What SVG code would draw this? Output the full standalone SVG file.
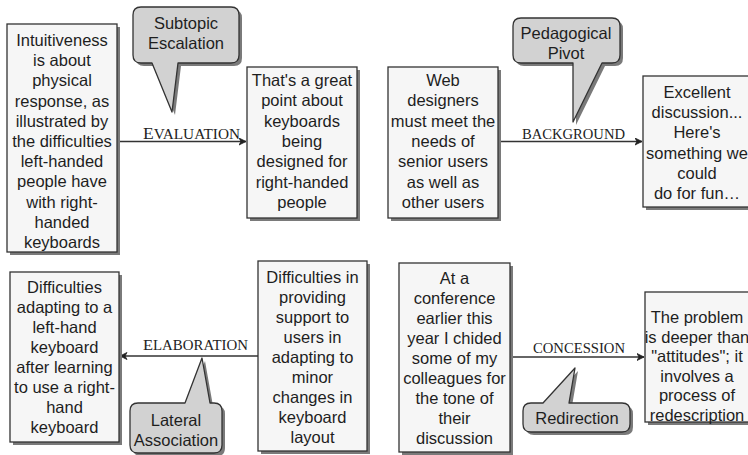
<svg xmlns="http://www.w3.org/2000/svg" width="748" height="455" viewBox="0 0 748 455">
<style>
.box{fill:#f6f6f6;stroke:#333;stroke-width:1.3}
.sh{fill:#7a7a7a}
.call{fill:#d2d2d2;stroke:#333;stroke-width:1.3;stroke-linejoin:round}
.t{font-family:"Liberation Sans",Arial,sans-serif;font-size:16.5px;fill:#1e1e1e;text-anchor:middle}
.lbl{font-family:"Liberation Serif","Times New Roman",serif;font-size:14px;fill:#222}
.ln{stroke:#333;stroke-width:1.4;fill:none}
</style>
<defs>
<marker id="ah" viewBox="0 0 8 8" refX="7.5" refY="4" markerWidth="8" markerHeight="8" markerUnits="userSpaceOnUse" orient="auto">
<path d="M0.5,0.5 L7.5,4 L0.5,7.5 L2.5,4 Z" fill="#222" stroke="#222" stroke-width="0.8" stroke-linejoin="round"/>
</marker>
</defs>
<rect width="748" height="455" fill="#fff"/>

<g id="connectors">
<line class="ln" x1="117" y1="141.5" x2="246" y2="141.5" marker-end="url(#ah)"/>
<text class="lbl" x="143" y="139" textLength="97" lengthAdjust="spacingAndGlyphs"><tspan style="font-size:16px">E</tspan>VALUATION</text>
<line class="ln" x1="498" y1="141.5" x2="642" y2="141.5" marker-end="url(#ah)"/>
<text class="lbl" x="522" y="138.5" textLength="103" lengthAdjust="spacingAndGlyphs">BACKGROUND</text>
<line class="ln" x1="258" y1="356" x2="120" y2="356" stroke-width="2" marker-end="url(#ah)"/>
<text class="lbl" x="143" y="350" textLength="105" lengthAdjust="spacingAndGlyphs"><tspan style="font-size:15.5px">E</tspan>LABORATION</text>
<line class="ln" x1="510" y1="357" x2="644" y2="357" marker-end="url(#ah)"/>
<text class="lbl" x="533" y="353" textLength="92" lengthAdjust="spacingAndGlyphs">CONCESSION</text>
</g>

<g id="n1">
<rect class="sh" x="10" y="27" width="110" height="228"/>
<rect class="box" x="7" y="24" width="110" height="228"/>
<text class="t" x="62" y="46"><tspan x="62">Intuitiveness</tspan><tspan x="62" dy="20.2">is about</tspan><tspan x="62" dy="20.2">physical</tspan><tspan x="62" dy="20.2">response, as</tspan><tspan x="62" dy="20.2">illustrated by</tspan><tspan x="62" dy="20.2">the difficulties</tspan><tspan x="62" dy="20.2">left-handed</tspan><tspan x="62" dy="20.2">people have</tspan><tspan x="62" dy="20.2">with right-</tspan><tspan x="62" dy="20.2">handed</tspan><tspan x="62" dy="20.2">keyboards</tspan></text>
</g>

<g id="n2">
<rect class="sh" x="250" y="70" width="110" height="151"/>
<rect class="box" x="247" y="67" width="110" height="151"/>
<text class="t" x="302" y="86"><tspan x="302">That's a great</tspan><tspan x="302" dy="20.3">point about</tspan><tspan x="302" dy="20.3">keyboards</tspan><tspan x="302" dy="20.3">being</tspan><tspan x="302" dy="20.3">designed for</tspan><tspan x="302" dy="20.3">right-handed</tspan><tspan x="302" dy="20.3">people</tspan></text>
</g>

<g id="n3">
<rect class="sh" x="391" y="70" width="110" height="151"/>
<rect class="box" x="388" y="67" width="110" height="151"/>
<text class="t" x="443" y="86"><tspan x="443">Web</tspan><tspan x="443" dy="20.3">designers</tspan><tspan x="443" dy="20.3">must meet the</tspan><tspan x="443" dy="20.3">needs of</tspan><tspan x="443" dy="20.3">senior users</tspan><tspan x="443" dy="20.3">as well as</tspan><tspan x="443" dy="20.3">other users</tspan></text>
</g>

<g id="n4">
<rect class="sh" x="646" y="79" width="110" height="131"/>
<rect class="box" x="643" y="76" width="110" height="131"/>
<text class="t" x="697" y="98"><tspan x="697">Excellent</tspan><tspan x="697" dy="20.2">discussion...</tspan><tspan x="697" dy="20.2">Here's</tspan><tspan x="697" dy="20.2">something we</tspan><tspan x="697" dy="20.2">could</tspan><tspan x="697" dy="20.2">do for fun…</tspan></text>
</g>

<g id="n5">
<rect class="sh" x="13" y="275" width="109" height="170"/>
<rect class="box" x="10" y="272" width="109" height="170"/>
<text class="t" x="64.5" y="293"><tspan x="64.5">Difficulties</tspan><tspan x="64.5" dy="20">adapting to a</tspan><tspan x="64.5" dy="20">left-hand</tspan><tspan x="64.5" dy="20">keyboard</tspan><tspan x="64.5" dy="20">after learning</tspan><tspan x="64.5" dy="20">to use a right-</tspan><tspan x="64.5" dy="20">hand</tspan><tspan x="64.5" dy="20">keyboard</tspan></text>
</g>

<g id="n6">
<rect class="sh" x="261" y="264" width="109" height="190"/>
<rect class="box" x="258" y="261" width="109" height="190"/>
<text class="t" x="312.5" y="283"><tspan x="312.5">Difficulties in</tspan><tspan x="312.5" dy="20">providing</tspan><tspan x="312.5" dy="20">support to</tspan><tspan x="312.5" dy="20">users in</tspan><tspan x="312.5" dy="20">adapting to</tspan><tspan x="312.5" dy="20">minor</tspan><tspan x="312.5" dy="20">changes in</tspan><tspan x="312.5" dy="20">keyboard</tspan><tspan x="312.5" dy="20">layout</tspan></text>
</g>

<g id="n7">
<rect class="sh" x="402" y="266" width="111" height="189"/>
<rect class="box" x="399" y="263" width="111" height="189"/>
<text class="t" x="454.5" y="284"><tspan x="454.5">At a</tspan><tspan x="454.5" dy="20">conference</tspan><tspan x="454.5" dy="20">earlier this</tspan><tspan x="454.5" dy="20">year I chided</tspan><tspan x="454.5" dy="20">some of my</tspan><tspan x="454.5" dy="20">colleagues for</tspan><tspan x="454.5" dy="20">the tone of</tspan><tspan x="454.5" dy="20">their</tspan><tspan x="454.5" dy="20">discussion</tspan></text>
</g>

<g id="n8">
<rect class="sh" x="648" y="295" width="110" height="130"/>
<rect class="box" x="645" y="292" width="110" height="130"/>
<text class="t" x="697" y="323"><tspan x="697">The problem</tspan><tspan x="697" dy="19.5">is deeper than</tspan><tspan x="697" dy="19.5">"attitudes"; it</tspan><tspan x="697" dy="19.5">involves a</tspan><tspan x="697" dy="19.5">process of</tspan><tspan x="697" dy="19.5">redescription</tspan></text>
</g>

<g id="c1">
<path class="sh" transform="translate(3,3)" d="M141,7 H231 Q239,7 239,15 V55 Q239,63 231,63 H178 L172,112 L152,63 H141 Q133,63 133,55 V15 Q133,7 141,7 Z"/>
<path class="call" d="M141,7 H231 Q239,7 239,15 V55 Q239,63 231,63 H178 L172,112 L152,63 H141 Q133,63 133,55 V15 Q133,7 141,7 Z"/>
<text class="t" x="186" y="29"><tspan x="186">Subtopic</tspan><tspan x="186" dy="20">Escalation</tspan></text>
</g>

<g id="c2">
<path class="sh" transform="translate(3,3)" d="M521,18 H612 Q620,18 620,26 V55 Q620,63 612,63 H602 L573,122 L573,63 H521 Q513,63 513,55 V26 Q513,18 521,18 Z"/>
<path class="call" d="M521,18 H612 Q620,18 620,26 V55 Q620,63 612,63 H602 L573,122 L573,63 H521 Q513,63 513,55 V26 Q513,18 521,18 Z"/>
<text class="t" x="566" y="39"><tspan x="566">Pedagogical</tspan><tspan x="566" dy="20">Pivot</tspan></text>
</g>

<g id="c3">
<path class="sh" transform="translate(3,3)" d="M138,403 H185 L202,358 L210,403 H214 Q222,403 222,411 V445 Q222,453 214,453 H138 Q130,453 130,445 V411 Q130,403 138,403 Z"/>
<path class="call" d="M138,403 H185 L202,358 L210,403 H214 Q222,403 222,411 V445 Q222,453 214,453 H138 Q130,453 130,445 V411 Q130,403 138,403 Z"/>
<text class="t" x="176" y="426"><tspan x="176">Lateral</tspan><tspan x="176" dy="20">Association</tspan></text>
</g>

<g id="c4">
<path class="sh" transform="translate(3,3)" d="M531,403 H543 L575,368 L569,403 H622 Q630,403 630,411 V424 Q630,432 622,432 H531 Q523,432 523,424 V411 Q523,403 531,403 Z"/>
<path class="call" d="M531,403 H543 L575,368 L569,403 H622 Q630,403 630,411 V424 Q630,432 622,432 H531 Q523,432 523,424 V411 Q523,403 531,403 Z"/>
<text class="t" x="577" y="424">Redirection</text>
</g>
</svg>
